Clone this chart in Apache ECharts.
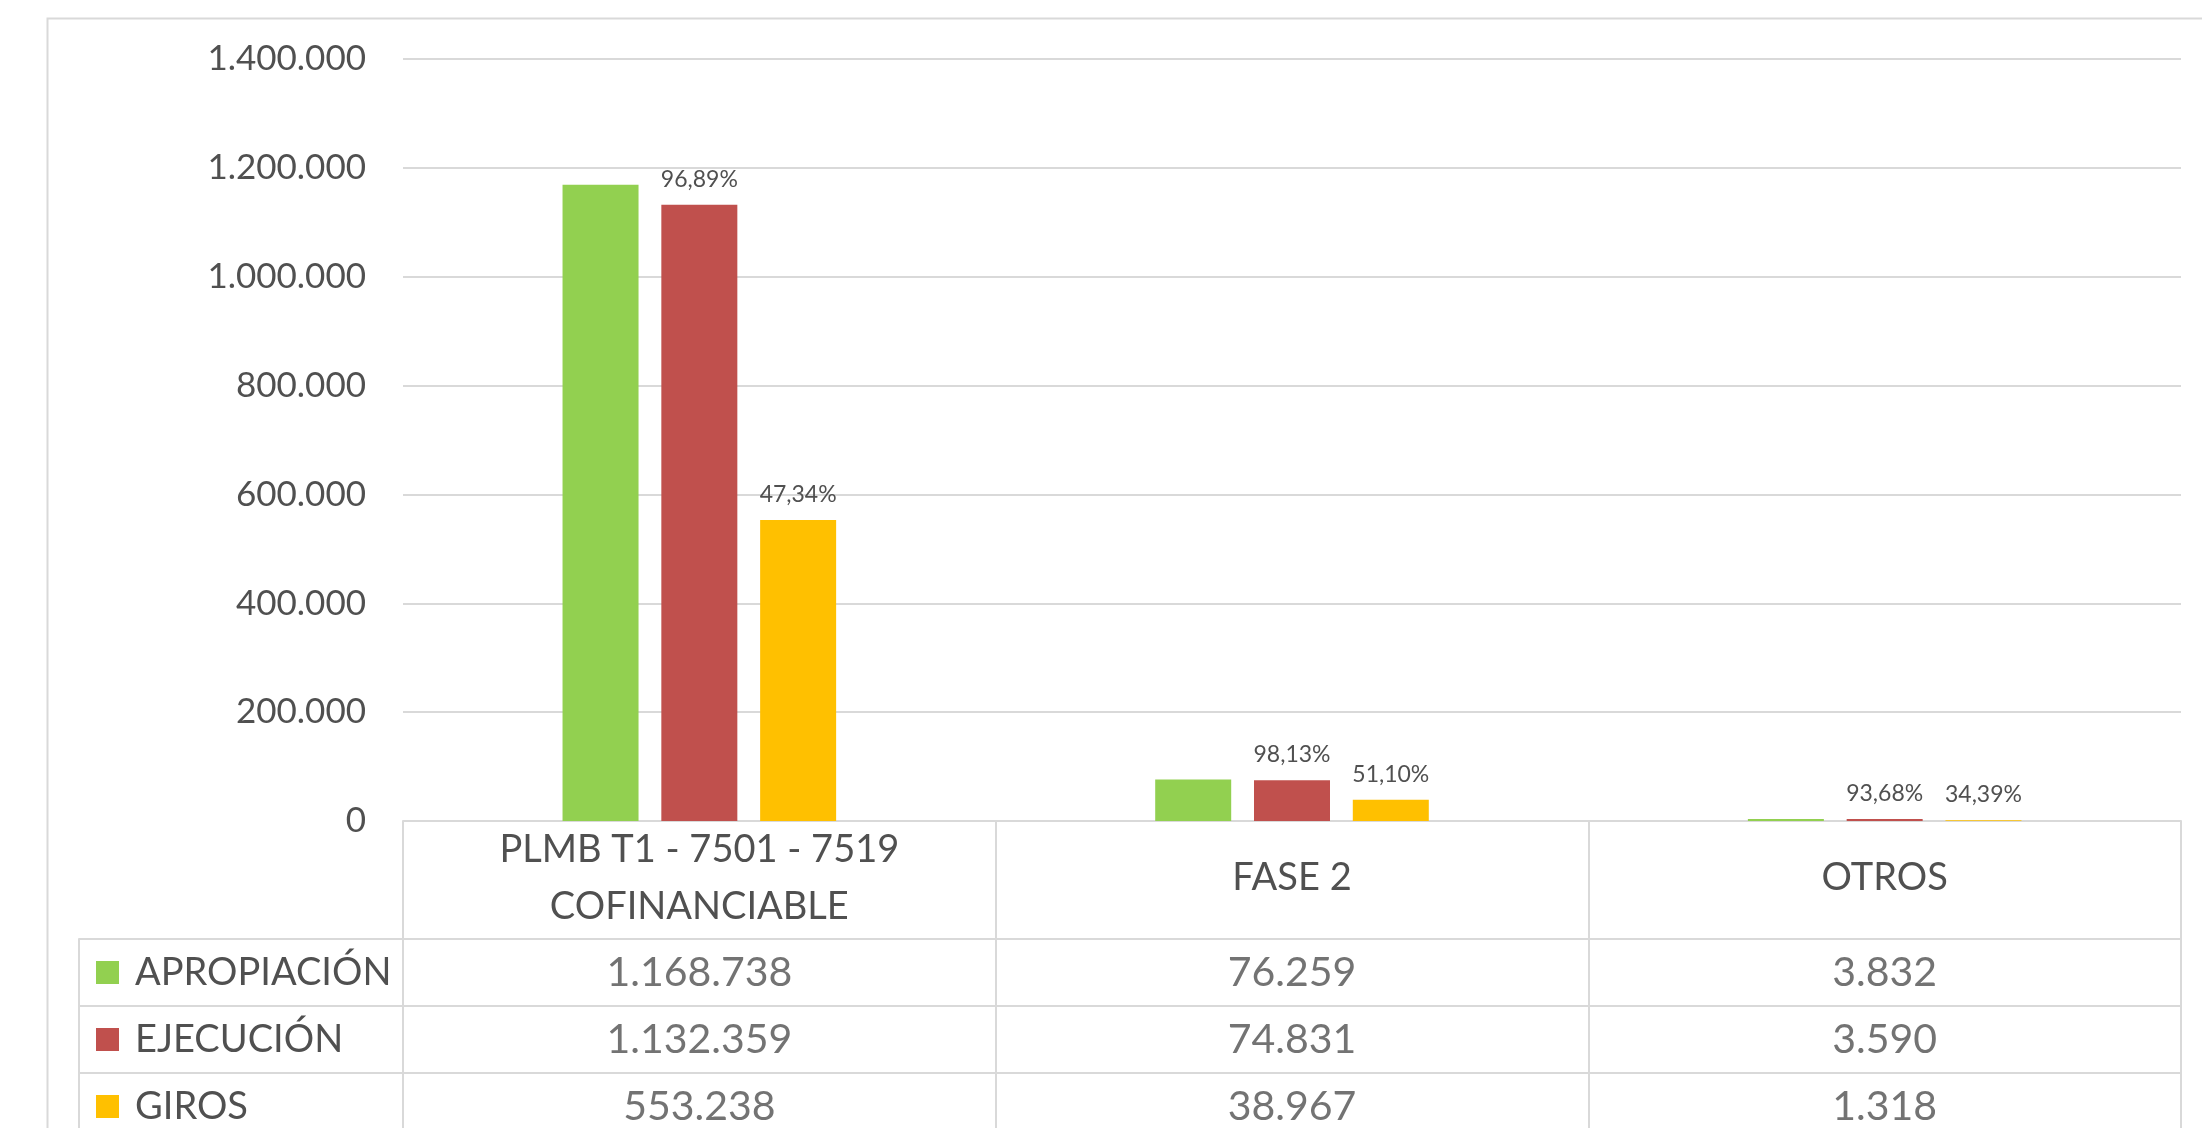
<!DOCTYPE html>
<html>
<head>
<meta charset="utf-8">
<script src="https://cdn.jsdelivr.net/npm/echarts@6/dist/echarts.min.js"></script>
<style>
  html, body { margin: 0; padding: 0; background: #fff; }
  #chart { width: 2202px; height: 1128px; }
</style>
</head>
<body>
<div id="chart"></div>
<script>
const categories = ['PLMB T1 - 7501 - 7519\nCOFINANCIABLE', 'FASE 2', 'OTROS']
const seriesNames = ['APROPIACIÓN', 'EJECUCIÓN', 'GIROS']
const apropiacion = [1168738, 76259, 3832]
const ejecucion = [1132359, 74831, 3590]
const giros = [553238, 38967, 1318]
const yTicks = [0, 200000, 400000, 600000, 800000, 1000000, 1200000, 1400000]

const colors = ['#92D050', '#C0504D', '#FFC000']
const textColor = '#505050'
const lineColor = '#d9d9d9'
const font = 'Lato'

function fmt(v) {
  return String(v).replace(/\B(?=(\d{3})+(?!\d))/g, '.')
}

// porcentaje respecto a la apropiación, con coma decimal
function pct(values, i) {
  return (values[i] / apropiacion[i] * 100).toFixed(2).replace('.', ',') + '%'
}

const allValues = [apropiacion, ejecucion, giros]

// celdas de la tabla de datos
const cellData = []
allValues.forEach((vals, r) => {
  vals.forEach((v, c) => {
    cellData.push([categories[c], seriesNames[r], v])
  })
})

const chart = echarts.init(document.getElementById('chart'))

const option = {
  animation: false,
  backgroundColor: '#fff',
  textStyle: { fontFamily: font },
  graphic: [{
    type: 'rect',
    left: 45,
    top: 16,
    shape: { width: 2300, height: 1300 },
    style: { fill: 'none', stroke: lineColor, lineWidth: 2 },
    silent: true
  }],
  grid: [
    { left: 403, right: 21, top: 59, bottom: 307, outerBoundsMode: 'none' },
    { left: 403, right: 21, top: 939, height: 201, outerBoundsMode: 'none' },
    { left: 79, width: 324, top: 939, height: 201, outerBoundsMode: 'none' }
  ],
  xAxis: [
    {
      type: 'category',
      gridIndex: 0,
      data: categories,
      axisLine: { show: true, lineStyle: { color: lineColor, width: 2 } },
      axisTick: {
        show: true,
        interval: 0,
        length: 118,
        lineStyle: { color: lineColor, width: 2 }
      },
      axisLabel: {
        interval: 0,
        margin: 57,
        verticalAlign: 'middle',
        color: textColor,
        fontFamily: font,
        fontSize: 38,
        lineHeight: 57
      }
    },
    {
      type: 'category',
      gridIndex: 1,
      data: categories,
      axisLine: { show: false },
      axisTick: { show: false },
      axisLabel: { show: false },
      splitLine: { show: true, interval: 0, lineStyle: { color: lineColor, width: 2 } }
    },
    {
      type: 'value',
      gridIndex: 2,
      show: false
    }
  ],
  yAxis: [
    {
      type: 'value',
      gridIndex: 0,
      min: yTicks[0],
      max: yTicks[yTicks.length - 1],
      interval: yTicks[1] - yTicks[0],
      axisLine: { show: false },
      axisTick: { show: false },
      axisLabel: {
        margin: 37,
        color: textColor,
        fontFamily: font,
        fontSize: 35,
        formatter: v => fmt(v)
      },
      splitLine: { lineStyle: { color: lineColor, width: 2 } }
    },
    {
      type: 'category',
      gridIndex: 1,
      inverse: true,
      data: seriesNames,
      axisLine: { show: false },
      axisTick: { show: false },
      axisLabel: { show: false },
      splitLine: { show: true, interval: 0, lineStyle: { color: lineColor, width: 2 } }
    },
    {
      type: 'category',
      gridIndex: 2,
      inverse: true,
      data: seriesNames,
      axisLine: { show: true, lineStyle: { color: lineColor, width: 2 } },
      axisTick: { show: false },
      splitLine: { show: true, interval: 0, lineStyle: { color: lineColor, width: 2 } },
      axisLabel: {
        inside: true,
        margin: 17,
        color: textColor,
        fontFamily: font,
        fontSize: 38,
        formatter: function (value, idx) {
          return '{s' + idx + '|}{t|' + value + '}'
        },
        rich: {
          s0: { backgroundColor: colors[0], width: 23, height: 23 },
          s1: { backgroundColor: colors[1], width: 23, height: 23 },
          s2: { backgroundColor: colors[2], width: 23, height: 23 },
          t: { color: textColor, fontFamily: font, fontSize: 38, padding: [0, 0, 0, 16] }
        }
      }
    }
  ],
  series: [
    {
      name: seriesNames[0],
      type: 'bar',
      data: apropiacion,
      barWidth: 76,
      barGap: '30%',
      itemStyle: { color: colors[0] }
    },
    {
      name: seriesNames[1],
      type: 'bar',
      data: ejecucion,
      barWidth: 76,
      barGap: '30%',
      itemStyle: { color: colors[1] },
      label: {
        show: true,
        position: 'top',
        distance: 14,
        color: textColor,
        fontFamily: font,
        fontSize: 23,
        formatter: p => pct(ejecucion, p.dataIndex)
      }
    },
    {
      name: seriesNames[2],
      type: 'bar',
      data: giros,
      barWidth: 76,
      barGap: '30%',
      itemStyle: { color: colors[2] },
      label: {
        show: true,
        position: 'top',
        distance: 14,
        color: textColor,
        fontFamily: font,
        fontSize: 23,
        formatter: p => pct(giros, p.dataIndex)
      }
    },
    {
      name: 'tabla',
      type: 'scatter',
      xAxisIndex: 1,
      yAxisIndex: 1,
      data: cellData,
      symbolSize: 1,
      itemStyle: { color: 'rgba(0,0,0,0)' },
      label: {
        show: true,
        position: 'inside',
        color: textColor,
        fontFamily: font,
        fontSize: 41,
        formatter: p => fmt(p.value[2])
      }
    }
  ]
}

chart.setOption(option)
</script>
</body>
</html>
